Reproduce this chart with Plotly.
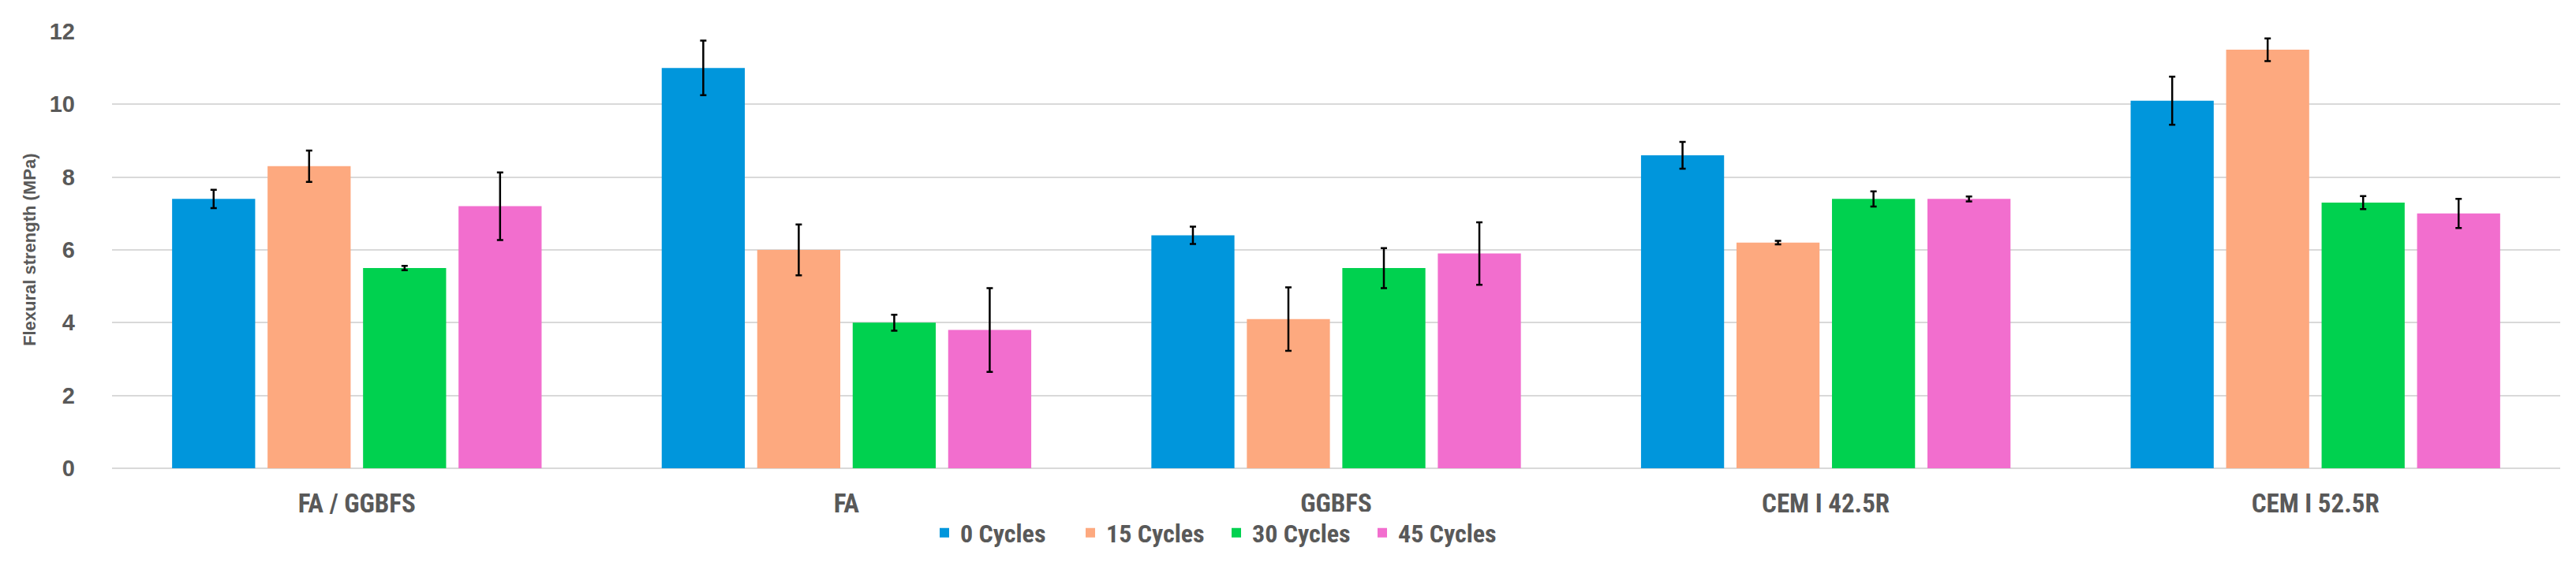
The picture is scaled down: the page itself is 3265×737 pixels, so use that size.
import plotly.graph_objects as go

categories = ["FA / GGBFS", "FA", "GGBFS", "CEM I 42.5R", "CEM I 52.5R"]
series_names = ["0 Cycles", "15 Cycles", "30 Cycles", "45 Cycles"]

cycles_0 = [7.4, 11.0, 6.4, 8.6, 10.1]
cycles_15 = [8.3, 6.0, 4.1, 6.2, 11.5]
cycles_30 = [5.5, 4.0, 5.5, 7.4, 7.3]
cycles_45 = [7.2, 3.8, 5.9, 7.4, 7.0]

err_0 = [0.25, 0.75, 0.24, 0.37, 0.66]
err_15 = [0.43, 0.70, 0.87, 0.05, 0.31]
err_30 = [0.06, 0.22, 0.55, 0.21, 0.18]
err_45 = [0.93, 1.15, 0.86, 0.07, 0.40]

y_ticks = [0, 2, 4, 6, 8, 10, 12]
y_title = "Flexural strength (MPa)"

colors = ["#0096DC", "#FDA97F", "#00D14F", "#F26ECE"]

values = [cycles_0, cycles_15, cycles_30, cycles_45]
errors = [err_0, err_15, err_30, err_45]

W, H = 3265, 737
L, R, T, B = 134, 28, 32, 151
PW, PH = W - L - R, H - T - B

fig = go.Figure()
for name, vals, errs, col in zip(series_names, values, errors, colors):
    fig.add_trace(go.Bar(
        name=name, x=categories, y=vals, marker_color=col,
        marker_line_width=0,
        error_y=dict(type="data", array=errs, visible=True,
                     color="#000000", thickness=2.5, width=4),
    ))

grey = "#595959"
narrow = "Liberation Sans Narrow, Roboto Condensed, Arial Narrow, Roboto, sans-serif"
regular = "Liberation Sans, Arial, sans-serif"

fig.update_layout(
    width=W, height=H,
    margin=dict(l=L, r=R, t=T, b=B, pad=0),
    paper_bgcolor="white", plot_bgcolor="white",
    barmode="group", bargap=0.22, bargroupgap=0.13,
    showlegend=True,
    legend=dict(orientation="h", x=(1539 - L) / PW, xanchor="center",
                y=(586 - 668) / PH, yanchor="middle",
                font=dict(family=narrow, size=32, color=grey, weight="bold"),
                itemwidth=30, entrywidth=140, traceorder="normal"),
    xaxis=dict(showgrid=False, showline=False, ticks="",
               tickfont=dict(family=narrow, size=33, color=grey, weight="bold"),
               ticklabelstandoff=22),
    yaxis=dict(range=[0, 12], tickvals=y_ticks, showgrid=True,
               gridcolor="#D9D9D9", gridwidth=2, zeroline=True,
               zerolinecolor="#D9D9D9", zerolinewidth=2, showline=False,
               ticks="", tickfont=dict(family=regular, size=29, color=grey,
                                       weight="bold"),
               ticklabelstandoff=46),
    annotations=[dict(text=y_title, textangle=-90, xref="paper", yref="paper",
                      x=(29 - L) / PW, y=0.5, xanchor="center",
                      yanchor="middle", showarrow=False,
                      font=dict(family=regular, size=22, color=grey,
                                weight="bold"))],
)

fig.write_html("out.html")
